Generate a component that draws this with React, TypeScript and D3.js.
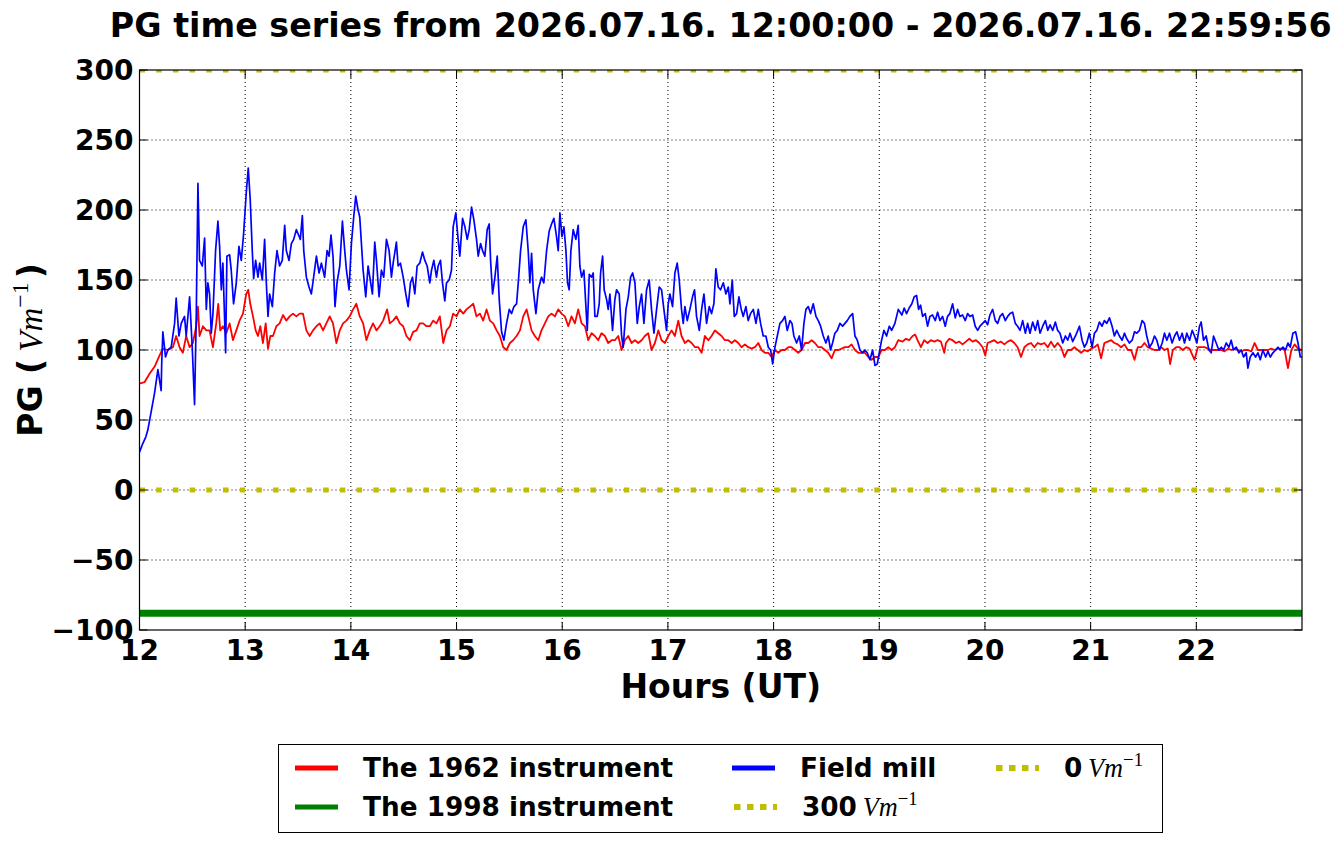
import * as d3 from "d3";

const WIDTH = 1342;
const HEIGHT = 844;
const plot = { left: 139.5, right: 1302, top: 70, bottom: 630 };

const titleText = "PG time series from 2026.07.16. 12:00:00 - 2026.07.16. 22:59:56";
const hourTicks = [12, 13, 14, 15, 16, 17, 18, 19, 20, 21, 22];
const pgTicks = [-100, -50, 0, 50, 100, 150, 200, 250, 300];
const pgTickLabels = ["\u2212100", "\u221250", "0", "50", "100", "150", "200", "250", "300"];
const referenceLevels = [0, 300];

// [hour (UT), PG in V/m]
const instrument1998: [number, number][] = [[12.0, -88], [22.999, -88]];

const instrument1962: [number, number][] = [
  [12.0, 76], [12.047, 77], [12.095, 83], [12.142, 88], [12.189, 96], [12.221, 101], [12.268, 100], [12.316, 102],
  [12.347, 110], [12.379, 102], [12.41, 98], [12.442, 110], [12.474, 102], [12.505, 105], [12.537, 117], [12.553, 131],
  [12.568, 110], [12.6, 117], [12.632, 114], [12.663, 114], [12.695, 102], [12.726, 119], [12.745, 133], [12.764, 114],
  [12.789, 117], [12.821, 112], [12.853, 119], [12.884, 107], [12.916, 114], [12.947, 121], [12.979, 126], [13.01, 140],
  [13.029, 143], [13.048, 133], [13.074, 124], [13.099, 114], [13.121, 110], [13.143, 117], [13.168, 105], [13.194, 119],
  [13.216, 101], [13.238, 110], [13.263, 110], [13.295, 117], [13.326, 119], [13.358, 125], [13.389, 121], [13.421, 124],
  [13.452, 126], [13.484, 124], [13.516, 126], [13.547, 126], [13.579, 114], [13.61, 110], [13.642, 114], [13.674, 117],
  [13.705, 119], [13.737, 114], [13.768, 119], [13.8, 124], [13.831, 119], [13.863, 105], [13.895, 114], [13.926, 119],
  [13.958, 121], [13.989, 124], [14.021, 129], [14.052, 133], [14.084, 124], [14.116, 119], [14.147, 107], [14.179, 114],
  [14.21, 119], [14.242, 114], [14.273, 117], [14.305, 121], [14.343, 129], [14.368, 119], [14.4, 121], [14.431, 124],
  [14.463, 119], [14.495, 117], [14.526, 110], [14.558, 107], [14.589, 113], [14.621, 114], [14.652, 119], [14.684, 119],
  [14.716, 117], [14.747, 117], [14.779, 121], [14.81, 119], [14.842, 124], [14.874, 105], [14.905, 114], [14.937, 117],
  [14.968, 126], [15.0, 124], [15.031, 129], [15.063, 126], [15.094, 129], [15.126, 131], [15.158, 133], [15.189, 124],
  [15.221, 126], [15.252, 121], [15.284, 129], [15.315, 121], [15.347, 119], [15.379, 114], [15.41, 110], [15.442, 102],
  [15.473, 100], [15.505, 105], [15.536, 107], [15.568, 110], [15.6, 114], [15.631, 124], [15.663, 129], [15.71, 114],
  [15.741, 110], [15.773, 107], [15.804, 114], [15.836, 119], [15.868, 124], [15.899, 126], [15.931, 124], [15.962, 129],
  [15.994, 126], [16.025, 124], [16.057, 117], [16.088, 124], [16.12, 119], [16.151, 129], [16.183, 119], [16.215, 117],
  [16.246, 107], [16.278, 112], [16.309, 110], [16.341, 107], [16.372, 112], [16.404, 110], [16.435, 105], [16.467, 107],
  [16.498, 107], [16.53, 110], [16.562, 100], [16.593, 107], [16.625, 110], [16.656, 105], [16.688, 107], [16.719, 105],
  [16.751, 107], [16.782, 110], [16.814, 112], [16.845, 100], [16.877, 105], [16.909, 114], [16.94, 107], [16.972, 105],
  [17.003, 110], [17.035, 114], [17.066, 110], [17.098, 121], [17.129, 110], [17.161, 105], [17.192, 107], [17.224, 105],
  [17.256, 102], [17.287, 102], [17.319, 98], [17.35, 110], [17.382, 107], [17.413, 110], [17.445, 114], [17.476, 112],
  [17.508, 110], [17.539, 107], [17.571, 107], [17.603, 105], [17.634, 107], [17.666, 105], [17.697, 102], [17.729, 104],
  [17.76, 102], [17.792, 101], [17.823, 102], [17.855, 105], [17.886, 100], [17.918, 98], [17.95, 98], [17.981, 95],
  [18.013, 100], [18.044, 98], [18.076, 100], [18.107, 100], [18.139, 102], [18.17, 102], [18.202, 100], [18.233, 98],
  [18.265, 100], [18.297, 105], [18.328, 105], [18.36, 107], [18.391, 105], [18.423, 102], [18.454, 102], [18.486, 100],
  [18.517, 98], [18.549, 94], [18.58, 100], [18.612, 100], [18.644, 101], [18.675, 102], [18.707, 102], [18.738, 104],
  [18.77, 100], [18.801, 98], [18.833, 98], [18.864, 98], [18.896, 95], [18.927, 93], [18.959, 95], [18.991, 95],
  [19.022, 100], [19.054, 100], [19.085, 102], [19.117, 100], [19.148, 102], [19.18, 107], [19.22, 106], [19.252, 108],
  [19.283, 107], [19.315, 110], [19.34, 111], [19.362, 107], [19.394, 102], [19.425, 107], [19.457, 105], [19.488, 107],
  [19.52, 106], [19.552, 107], [19.583, 106], [19.615, 98], [19.631, 105], [19.662, 108], [19.694, 107], [19.725, 105],
  [19.757, 106], [19.788, 104], [19.82, 106], [19.852, 108], [19.883, 106], [19.915, 107], [19.946, 105], [19.978, 102],
  [20.003, 96], [20.025, 105], [20.057, 106], [20.088, 107], [20.12, 105], [20.152, 106], [20.183, 104], [20.215, 106],
  [20.246, 107], [20.278, 105], [20.309, 102], [20.341, 95], [20.373, 102], [20.404, 104], [20.436, 105], [20.467, 102],
  [20.499, 105], [20.53, 104], [20.562, 105], [20.594, 102], [20.625, 106], [20.657, 102], [20.688, 105], [20.72, 102],
  [20.752, 95], [20.783, 100], [20.815, 100], [20.846, 102], [20.878, 100], [20.909, 98], [20.941, 100], [20.973, 99],
  [21.004, 101], [21.036, 102], [21.067, 104], [21.099, 94], [21.13, 105], [21.162, 106], [21.194, 107], [21.225, 105],
  [21.257, 104], [21.288, 102], [21.32, 104], [21.352, 100], [21.383, 100], [21.415, 93], [21.446, 102], [21.478, 102],
  [21.509, 105], [21.541, 102], [21.573, 101], [21.604, 100], [21.636, 100], [21.667, 102], [21.699, 100], [21.73, 101],
  [21.752, 90], [21.778, 100], [21.809, 102], [21.841, 102], [21.872, 100], [21.904, 102], [21.936, 101], [21.983, 93],
  [22.015, 102], [22.046, 102], [22.078, 102], [22.109, 101], [22.141, 100], [22.172, 100], [22.204, 100], [22.236, 100],
  [22.267, 99], [22.299, 101], [22.33, 100], [22.362, 101], [22.393, 100], [22.425, 99], [22.457, 100], [22.488, 100],
  [22.52, 99], [22.551, 105], [22.583, 100], [22.614, 100], [22.646, 100], [22.678, 100], [22.709, 101], [22.741, 100],
  [22.772, 101], [22.804, 101], [22.836, 100], [22.867, 87], [22.899, 100], [22.93, 104], [22.962, 101], [22.999, 100],
];

const fieldMill: [number, number][] = [
  [12.0, 27], [12.03, 33], [12.06, 38], [12.079, 43], [12.142, 69], [12.174, 86], [12.205, 71], [12.21, 90],
  [12.221, 113], [12.246, 95], [12.268, 100], [12.3, 102], [12.332, 119], [12.347, 137], [12.373, 110], [12.395, 119],
  [12.426, 124], [12.442, 110], [12.474, 138], [12.499, 102], [12.521, 61], [12.537, 124], [12.553, 219], [12.568, 164],
  [12.594, 160], [12.616, 180], [12.632, 129], [12.647, 148], [12.663, 140], [12.679, 112], [12.695, 126], [12.72, 171],
  [12.742, 192], [12.758, 174], [12.774, 143], [12.789, 162], [12.815, 98], [12.827, 167], [12.853, 168], [12.868, 157],
  [12.89, 133], [12.916, 148], [12.941, 174], [12.963, 164], [12.985, 183], [13.01, 212], [13.029, 230], [13.048, 207],
  [13.067, 171], [13.08, 151], [13.099, 164], [13.121, 152], [13.137, 162], [13.162, 150], [13.184, 179], [13.2, 148],
  [13.216, 124], [13.231, 140], [13.257, 131], [13.279, 155], [13.301, 171], [13.326, 160], [13.351, 164], [13.374, 189],
  [13.389, 171], [13.415, 164], [13.437, 176], [13.459, 179], [13.484, 186], [13.5, 183], [13.522, 179], [13.541, 196],
  [13.554, 171], [13.579, 152], [13.604, 145], [13.626, 140], [13.648, 152], [13.674, 167], [13.699, 155], [13.721, 162],
  [13.752, 152], [13.775, 171], [13.794, 167], [13.812, 182], [13.831, 167], [13.85, 131], [13.869, 148], [13.895, 160],
  [13.92, 192], [13.942, 171], [13.958, 157], [13.983, 143], [14.005, 176], [14.027, 195], [14.046, 210], [14.068, 200],
  [14.084, 195], [14.1, 176], [14.116, 157], [14.141, 138], [14.163, 160], [14.179, 152], [14.204, 140], [14.226, 177],
  [14.242, 164], [14.267, 138], [14.289, 157], [14.311, 152], [14.337, 179], [14.362, 171], [14.384, 152], [14.4, 162],
  [14.431, 177], [14.447, 160], [14.469, 162], [14.495, 152], [14.52, 140], [14.542, 131], [14.564, 148], [14.583, 152],
  [14.605, 140], [14.627, 160], [14.652, 162], [14.678, 170], [14.7, 164], [14.722, 160], [14.747, 148], [14.763, 157],
  [14.785, 164], [14.81, 152], [14.826, 160], [14.848, 164], [14.867, 148], [14.889, 135], [14.905, 148], [14.93, 150],
  [14.952, 157], [14.968, 188], [14.993, 198], [15.015, 179], [15.031, 167], [15.057, 194], [15.079, 188], [15.101, 179],
  [15.12, 186], [15.142, 202], [15.164, 193], [15.189, 179], [15.205, 167], [15.227, 176], [15.246, 171], [15.268, 167],
  [15.29, 186], [15.309, 190], [15.322, 164], [15.341, 140], [15.363, 152], [15.385, 167], [15.404, 136], [15.426, 113],
  [15.448, 107], [15.473, 119], [15.499, 129], [15.521, 126], [15.543, 131], [15.568, 133], [15.584, 148], [15.606, 171],
  [15.631, 188], [15.656, 193], [15.678, 171], [15.694, 148], [15.71, 169], [15.726, 143], [15.751, 126], [15.773, 143],
  [15.804, 152], [15.826, 148], [15.852, 171], [15.877, 185], [15.899, 190], [15.921, 194], [15.946, 181], [15.962, 171],
  [15.978, 198], [15.997, 181], [16.016, 188], [16.035, 171], [16.05, 148], [16.066, 143], [16.082, 171], [16.104, 186],
  [16.129, 179], [16.151, 189], [16.167, 160], [16.183, 152], [16.205, 157], [16.224, 131], [16.237, 114], [16.256, 154],
  [16.278, 152], [16.293, 155], [16.309, 124], [16.331, 124], [16.35, 133], [16.363, 155], [16.382, 167], [16.397, 143],
  [16.42, 136], [16.435, 129], [16.451, 140], [16.476, 114], [16.498, 136], [16.514, 143], [16.539, 140], [16.562, 110],
  [16.577, 102], [16.603, 129], [16.625, 138], [16.647, 152], [16.666, 155], [16.688, 148], [16.71, 119], [16.729, 131],
  [16.751, 140], [16.773, 119], [16.798, 143], [16.823, 150], [16.845, 129], [16.868, 112], [16.893, 129], [16.918, 145],
  [16.94, 143], [16.962, 129], [16.987, 114], [17.003, 133], [17.019, 140], [17.044, 131], [17.066, 155], [17.088, 162],
  [17.107, 150], [17.129, 129], [17.145, 119], [17.161, 131], [17.183, 121], [17.208, 129], [17.233, 138], [17.252, 143],
  [17.271, 124], [17.297, 114], [17.319, 129], [17.341, 140], [17.366, 119], [17.391, 131], [17.413, 126], [17.435, 133],
  [17.454, 158], [17.476, 145], [17.498, 143], [17.524, 148], [17.549, 140], [17.571, 145], [17.587, 133], [17.609, 150],
  [17.628, 124], [17.65, 126], [17.672, 138], [17.694, 129], [17.713, 124], [17.738, 131], [17.76, 121], [17.782, 126],
  [17.808, 129], [17.833, 119], [17.855, 129], [17.877, 119], [17.902, 110], [17.927, 110], [17.95, 102], [17.972, 100],
  [17.991, 90], [18.013, 102], [18.035, 110], [18.06, 119], [18.085, 121], [18.107, 124], [18.129, 114], [18.155, 121],
  [18.174, 119], [18.192, 110], [18.218, 105], [18.243, 110], [18.265, 100], [18.287, 119], [18.306, 129], [18.328, 131],
  [18.35, 126], [18.375, 133], [18.401, 124], [18.423, 121], [18.445, 117], [18.47, 110], [18.495, 105], [18.517, 110],
  [18.539, 100], [18.558, 105], [18.58, 112], [18.603, 114], [18.628, 119], [18.653, 117], [18.675, 119], [18.697, 121],
  [18.722, 124], [18.748, 126], [18.77, 110], [18.792, 107], [18.817, 100], [18.842, 98], [18.864, 100], [18.886, 98],
  [18.912, 93], [18.937, 100], [18.959, 89], [18.981, 90], [19.0, 98], [19.022, 107], [19.044, 114], [19.069, 110],
  [19.095, 117], [19.117, 114], [19.148, 119], [19.18, 129], [19.214, 125], [19.236, 130], [19.258, 126], [19.283, 130],
  [19.308, 133], [19.331, 138], [19.353, 139], [19.372, 129], [19.391, 132], [19.41, 124], [19.435, 126], [19.457, 117],
  [19.479, 124], [19.504, 125], [19.53, 121], [19.552, 127], [19.574, 121], [19.599, 124], [19.624, 117], [19.646, 124],
  [19.668, 126], [19.694, 133], [19.719, 123], [19.741, 129], [19.763, 124], [19.788, 125], [19.814, 121], [19.836, 126],
  [19.858, 124], [19.883, 125], [19.908, 117], [19.931, 114], [19.953, 117], [19.978, 119], [20.003, 121], [20.025, 118],
  [20.047, 125], [20.073, 129], [20.098, 121], [20.12, 119], [20.142, 124], [20.167, 126], [20.193, 121], [20.215, 124],
  [20.237, 126], [20.262, 127], [20.287, 119], [20.309, 117], [20.332, 114], [20.357, 121], [20.382, 112], [20.404, 119],
  [20.426, 112], [20.452, 120], [20.477, 114], [20.499, 121], [20.521, 112], [20.546, 117], [20.572, 121], [20.594, 114],
  [20.616, 118], [20.641, 114], [20.666, 120], [20.688, 114], [20.71, 112], [20.736, 105], [20.761, 110], [20.783, 107],
  [20.805, 112], [20.83, 106], [20.862, 111], [20.894, 117], [20.919, 107], [20.941, 102], [20.963, 105], [20.988, 112],
  [21.014, 102], [21.036, 112], [21.058, 114], [21.083, 120], [21.108, 117], [21.13, 121], [21.153, 119], [21.178, 123],
  [21.203, 117], [21.225, 110], [21.247, 114], [21.272, 110], [21.298, 107], [21.32, 112], [21.342, 108], [21.367, 105],
  [21.393, 107], [21.415, 113], [21.437, 112], [21.462, 114], [21.487, 121], [21.509, 119], [21.531, 110], [21.557, 102],
  [21.582, 105], [21.604, 110], [21.626, 107], [21.651, 100], [21.677, 105], [21.699, 112], [21.721, 107], [21.746, 112],
  [21.771, 105], [21.794, 110], [21.816, 113], [21.841, 107], [21.866, 112], [21.888, 105], [21.91, 112], [21.936, 107],
  [21.961, 114], [21.983, 110], [22.005, 105], [22.03, 117], [22.046, 120], [22.068, 107], [22.093, 110], [22.119, 100],
  [22.141, 98], [22.163, 110], [22.188, 105], [22.213, 100], [22.236, 102], [22.258, 100], [22.283, 105], [22.308, 102],
  [22.33, 107], [22.352, 100], [22.378, 102], [22.403, 98], [22.425, 100], [22.447, 95], [22.472, 98], [22.488, 87],
  [22.51, 95], [22.536, 98], [22.561, 95], [22.583, 98], [22.605, 93], [22.63, 100], [22.656, 95], [22.678, 99],
  [22.7, 95], [22.725, 98], [22.75, 100], [22.772, 102], [22.794, 100], [22.82, 102], [22.845, 100], [22.867, 105],
  [22.889, 102], [22.914, 112], [22.94, 113], [22.962, 105], [22.984, 95], [22.999, 95],
];

const COLORS = { red: "#ff0000", blue: "#0000ff", green: "#008000", yellow: "#bfbf00" };
const SANS = "'DejaVu Sans', sans-serif";
const MATH = "'Liberation Serif', 'DejaVu Serif', serif";

const x = d3.scaleLinear().domain([12, 23]).range([plot.left, plot.right]);
const y = d3.scaleLinear().domain([-100, 300]).range([plot.bottom, plot.top]);
const line = d3.line<[number, number]>().x((d) => x(d[0])).y((d) => y(d[1]));

// italic "Vm" with a raised "-1", the way mathtext sets $Vm^{-1}$
const VmInv = ({ size }: { size: number }) => (
  <>
    <tspan fontFamily={MATH} fontStyle="italic" fontWeight="normal" dx={size * 0.22}>Vm</tspan>
    <tspan fontFamily={MATH} fontWeight="normal" fontSize={size * 0.72} dy={-size * 0.42}>{"\u22121"}</tspan>
  </>
);

type LegendItem = { label: string; math?: boolean; color: string; dotted?: boolean; lx: number; ly: number; width: number };

const legendItems: LegendItem[] = [
  { label: "The 1962 instrument", color: COLORS.red, lx: 295, ly: 768, width: 5 },
  { label: "The 1998 instrument", color: COLORS.green, lx: 295, ly: 807, width: 5 },
  { label: "Field mill", color: COLORS.blue, lx: 732, ly: 768, width: 5 },
  { label: "300", math: true, color: COLORS.yellow, dotted: true, lx: 734, ly: 807, width: 6 },
  { label: "0", math: true, color: COLORS.yellow, dotted: true, lx: 996, ly: 768, width: 6 },
];

export default function App() {
  return (
    <div style={{ position: "absolute", left: 0, top: 0 }}>
      <svg width={WIDTH} height={HEIGHT} style={{ display: "block", background: "#fff" }}>
        <defs>
          <clipPath id="plotClip">
            <rect x={plot.left} y={plot.top} width={plot.right - plot.left} height={plot.bottom - plot.top} />
          </clipPath>
        </defs>

        <text x={(plot.left + plot.right) / 2} y={37} textAnchor="middle" fontFamily={SANS} fontWeight="bold" fontSize={33.3}>
          {titleText}
        </text>

        {/* grid */}
        <g stroke="#000" strokeWidth={1} strokeDasharray="1,3">
          {hourTicks.slice(1).map((h) => (
            <line key={"gx" + h} x1={x(h)} x2={x(h)} y1={plot.top} y2={plot.bottom} />
          ))}
          {pgTicks.slice(1, -1).map((v) => (
            <line key={"gy" + v} x1={plot.left} x2={plot.right} y1={y(v)} y2={y(v)} />
          ))}
        </g>

        <g clipPath="url(#plotClip)" fill="none">
          {referenceLevels.map((v) => (
            <line key={"ref" + v} x1={plot.left} x2={plot.right} y1={y(v)} y2={y(v)}
              stroke={COLORS.yellow} strokeWidth={5} strokeDasharray="5.5,11.2" />
          ))}
          <path d={line(instrument1998) ?? ""} stroke={COLORS.green} strokeWidth={7} />
          <path d={line(instrument1962) ?? ""} stroke={COLORS.red} strokeWidth={1.8} strokeLinejoin="round" />
          <path d={line(fieldMill) ?? ""} stroke={COLORS.blue} strokeWidth={1.7} strokeLinejoin="round" />
        </g>

        {/* frame and ticks */}
        <rect x={plot.left} y={plot.top} width={plot.right - plot.left} height={plot.bottom - plot.top}
          fill="none" stroke="#000" strokeWidth={1.2} />
        <g stroke="#000" strokeWidth={1}>
          {hourTicks.map((h) => (
            <g key={"tx" + h}>
              <line x1={x(h)} x2={x(h)} y1={plot.bottom} y2={plot.bottom - 8} />
              <line x1={x(h)} x2={x(h)} y1={plot.top} y2={plot.top + 8} />
            </g>
          ))}
          {pgTicks.map((v) => (
            <g key={"ty" + v}>
              <line x1={plot.left} x2={plot.left + 8} y1={y(v)} y2={y(v)} />
              <line x1={plot.right} x2={plot.right - 8} y1={y(v)} y2={y(v)} />
            </g>
          ))}
        </g>

        <g fontFamily={SANS} fontWeight="bold" fontSize={28}>
          {hourTicks.map((h) => (
            <text key={"lx" + h} x={x(h)} y={plot.bottom + 30} textAnchor="middle">{h}</text>
          ))}
          {pgTicks.map((v, i) => (
            <text key={"ly" + v} x={plot.left - 6} y={y(v) + 10} textAnchor="end">{pgTickLabels[i]}</text>
          ))}
        </g>

        <text x={(plot.left + plot.right) / 2} y={698} textAnchor="middle" fontFamily={SANS} fontWeight="bold" fontSize={33}>
          Hours (UT)
        </text>

        <text transform={`translate(42,${(plot.top + plot.bottom) / 2}) rotate(-90)`} textAnchor="middle"
          fontFamily={SANS} fontWeight="bold" fontSize={33}>
          <tspan>PG (</tspan>
          <VmInv size={33} />
          <tspan dx={4} dy={33 * 0.42}>)</tspan>
        </text>

        {/* legend */}
        <rect x={278.5} y={744.5} width={884} height={88} fill="#fff" stroke="#000" strokeWidth={1} />
        {legendItems.map((it) => (
          <g key={it.label}>
            <line x1={it.lx} x2={it.lx + 43} y1={it.ly} y2={it.ly} stroke={it.color} strokeWidth={it.width}
              strokeDasharray={it.dotted ? "6.5,6.5" : undefined} />
            <text x={it.lx + 68} y={it.ly + 9} fontFamily={SANS} fontWeight="bold" fontSize={26.3}>
              <tspan>{it.label}</tspan>
              {it.math && <VmInv size={26} />}
            </text>
          </g>
        ))}
      </svg>
    </div>
  );
}
